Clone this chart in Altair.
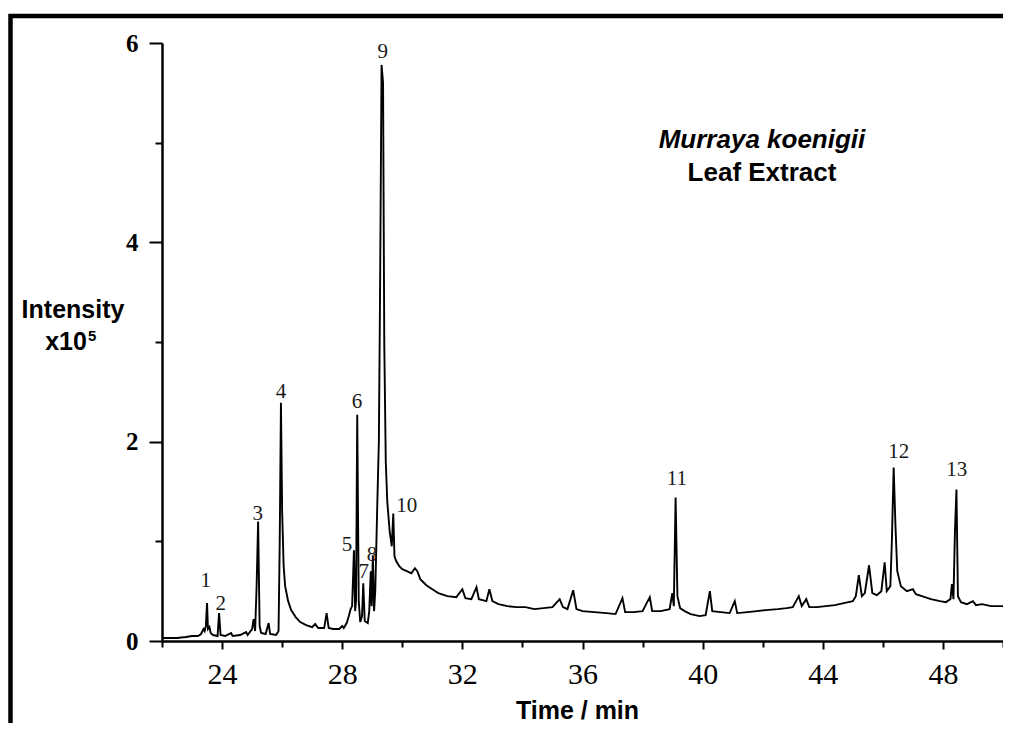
import altair as alt
import pandas as pd

# ---- chromatogram trace (time in min, intensity in 1e5 counts) ----
time_min = [
    22.0, 22.5, 22.8, 23.0, 23.2, 23.3, 23.38, 23.42, 23.46, 23.5, 23.53, 23.58, 23.62, 23.7,
    23.85, 23.9, 23.95, 24.1, 24.3, 24.35, 24.6, 24.8, 24.85, 25.0, 25.05, 25.1, 25.15, 25.2,
    25.25, 25.3, 25.45, 25.55, 25.6, 25.8, 25.88, 25.92, 25.96, 26.0, 26.05, 26.1, 26.2, 26.3,
    26.45, 26.6, 26.8, 27.0, 27.1, 27.2, 27.4, 27.48, 27.55, 27.7, 27.9, 28.0, 28.05, 28.15,
    28.22, 28.28, 28.33, 28.39, 28.43, 28.46, 28.5, 28.55, 28.6, 28.66, 28.7, 28.75, 28.85,
    28.9, 28.95, 28.98, 29.02, 29.06, 29.1, 29.17, 29.22, 29.26, 29.31, 29.36, 29.4, 29.45,
    29.5, 29.58, 29.65, 29.7, 29.74, 29.8, 29.9, 30.0, 30.15, 30.3, 30.42, 30.5, 30.6, 30.8,
    31.0, 31.2, 31.5, 31.8, 32.0, 32.1, 32.3, 32.47, 32.55, 32.8, 32.9, 33.0, 33.2, 33.5,
    33.8, 34.1, 34.4, 34.7, 35.0, 35.24, 35.35, 35.5, 35.69, 35.8, 36.0, 36.4, 36.8, 37.1,
    37.33, 37.42, 37.7, 38.0, 38.24, 38.32, 38.6, 38.9, 38.99, 39.04, 39.1, 39.16, 39.25,
    39.4, 39.6, 39.9, 40.1, 40.24, 40.32, 40.6, 40.9, 41.07, 41.15, 41.5, 41.8, 42.1, 42.5,
    42.8, 43.0, 43.2, 43.3, 43.45, 43.55, 43.8, 44.1, 44.4, 44.7, 45.0, 45.1, 45.2, 45.3,
    45.4, 45.54, 45.65, 45.8, 45.95, 46.06, 46.13, 46.25, 46.3, 46.36, 46.42, 46.48, 46.6,
    46.8, 47.0, 47.1, 47.3, 47.6, 47.9, 48.1, 48.25, 48.3, 48.35, 48.4, 48.45, 48.5, 48.6,
    48.8, 49.0, 49.1, 49.3, 49.6, 50.0,
]
intensity = [
    0.03, 0.03, 0.04, 0.05, 0.05, 0.07, 0.12, 0.10, 0.15, 0.38, 0.12, 0.14, 0.08, 0.06,
    0.05, 0.28, 0.06, 0.05, 0.08, 0.05, 0.06, 0.09, 0.06, 0.12, 0.22, 0.10, 0.55, 1.20,
    0.15, 0.08, 0.07, 0.18, 0.07, 0.06, 0.10, 1.00, 2.39, 1.30, 0.75, 0.55, 0.40, 0.31,
    0.24, 0.19, 0.16, 0.14, 0.17, 0.13, 0.13, 0.28, 0.13, 0.12, 0.12, 0.15, 0.13, 0.18,
    0.25, 0.32, 0.35, 0.91, 0.30, 0.40, 2.27, 0.40, 0.19, 0.25, 0.58, 0.20, 0.18,
    0.30, 0.70, 0.35, 0.86, 0.30, 0.50, 1.40, 2.00, 3.50, 5.78, 5.60, 3.00, 1.80,
    1.40, 1.10, 0.95, 1.28, 0.85, 0.80, 0.75, 0.72, 0.70, 0.68, 0.73, 0.70, 0.62, 0.56,
    0.52, 0.48, 0.45, 0.44, 0.52, 0.43, 0.42, 0.54, 0.42, 0.40, 0.52, 0.40, 0.37, 0.35,
    0.34, 0.34, 0.32, 0.33, 0.34, 0.42, 0.34, 0.32, 0.51, 0.32, 0.30, 0.29, 0.28, 0.27,
    0.43, 0.29, 0.29, 0.30, 0.44, 0.30, 0.30, 0.32, 0.48, 0.35, 1.44, 0.45, 0.33,
    0.30, 0.27, 0.25, 0.26, 0.50, 0.30, 0.29, 0.28, 0.40, 0.28, 0.29, 0.30, 0.31, 0.32,
    0.33, 0.34, 0.45, 0.35, 0.42, 0.34, 0.34, 0.35, 0.36, 0.38, 0.40, 0.45, 0.66, 0.45,
    0.48, 0.76, 0.48, 0.46, 0.50, 0.79, 0.50, 0.55, 1.00, 1.74, 1.15, 0.70, 0.55,
    0.50, 0.52, 0.47, 0.45, 0.42, 0.40, 0.39, 0.42, 0.57, 0.42, 1.10, 1.52, 0.45, 0.39,
    0.37, 0.40, 0.36, 0.37, 0.35, 0.35,
]

# ---- peak labels (data coordinates) ----
peak_ids = ["1", "2", "3", "4", "5", "6", "7", "8", "9", "10", "11", "12", "13"]
label_time = [23.46, 23.96, 25.19, 25.96, 28.16, 28.49, 28.72, 28.99, 29.35, 30.15, 39.14, 46.53, 48.46]
label_int = [0.60, 0.37, 1.27, 2.50, 0.96, 2.40, 0.69, 0.86, 5.91, 1.35, 1.63, 1.90, 1.72]

x_major = [24, 28, 32, 36, 40, 44, 48]
x_minor = [22, 26, 30, 34, 38, 42, 46, 50]
y_major = [0, 2, 4, 6]
y_minor = [1, 3, 5]

species = "Murraya koenigii"
extract = "Leaf Extract"
y_title_1 = "Intensity"
y_title_2 = "x10"
y_title_exp = "5"
x_title = "Time / min"

trace = pd.DataFrame({"t": time_min, "I": intensity})
labels = pd.DataFrame({"id": peak_ids, "t": label_time, "I": label_int})

xscale = alt.Scale(domain=[22, 50], nice=False, zero=False)
yscale = alt.Scale(domain=[0, 6], nice=False, zero=True)

W, H = 841, 598

line = alt.Chart(trace).mark_line(color="black", strokeWidth=1.9, strokeJoin="miter").encode(
    x=alt.X(
        "t:Q", scale=xscale,
        axis=alt.Axis(
            orient="bottom", values=x_major, format="d", tickSize=8, tickWidth=2,
            domainWidth=2.5, domainColor="black", tickColor="black",
            labelFont="Liberation Serif", labelFontSize=30, labelColor="black",
            labelPadding=10, labelFlush=False,
            title=x_title, titleFont="Liberation Sans", titleFontSize=25,
            titleFontWeight="bold", titleColor="black", titleBaseline="alphabetic",
            titleX=415, titleY=77, titleAlign="center",
        ),
    ),
    y=alt.Y(
        "I:Q", scale=yscale,
        axis=alt.Axis(
            orient="left", values=y_major, format="d", tickSize=13, tickWidth=2,
            domainWidth=2.5, domainColor="black", tickColor="black",
            labelFont="Liberation Serif", labelFontSize=25, labelFontWeight="bold",
            labelColor="black", labelPadding=11, labelFlush=False, title=None,
        ),
    ),
)

minor = alt.Chart(trace).mark_line(opacity=0).encode(
    x=alt.X(
        "t:Q", scale=xscale,
        axis=alt.Axis(orient="bottom", values=x_minor, labels=False, domain=False,
                      tickSize=6, tickWidth=2, tickColor="black", title=None),
    ),
    y=alt.Y(
        "I:Q", scale=yscale,
        axis=alt.Axis(orient="left", values=y_minor, labels=False, domain=False,
                      tickSize=7, tickWidth=2, tickColor="black", title=None),
    ),
)

peak_text = alt.Chart(labels).mark_text(
    font="Liberation Serif", fontSize=21, color="#1a1a1a", align="center", baseline="middle"
).encode(
    x=alt.X("t:Q", scale=xscale, axis=None),
    y=alt.Y("I:Q", scale=yscale, axis=None),
    text="id:N",
)


def label_text(txt, x, y, size=26, style="normal", align="center"):
    return alt.Chart(pd.DataFrame({"txt": [txt]})).mark_text(
        font="Liberation Sans", fontSize=size, fontWeight="bold", fontStyle=style,
        color="black", align=align, baseline="alphabetic"
    ).encode(text="txt:N", x=alt.value(x), y=alt.value(y))


ann1 = label_text(species, 600, 105, style="italic")
ann2 = label_text(extract, 600, 138)
yt1 = label_text(y_title_1, -89, 275, size=25)
yt2 = label_text(y_title_2, -96, 307, size=25)
yt3 = label_text(y_title_exp, -74, 298, size=15, align="left")

frame = alt.Chart(pd.DataFrame({"k": [0]})).mark_rect(
    fill=None, stroke="black", strokeWidth=4.5
).encode(
    x=alt.value(-151.5), x2=alt.value(W + 60), y=alt.value(-27), y2=alt.value(H + 140)
)

chart = alt.layer(line, minor, peak_text, ann1, ann2, yt1, yt2, yt3, frame).resolve_axis(
    x="independent", y="independent"
).properties(
    width=W, height=H,
    padding={"left": 154, "top": 35, "right": 0, "bottom": 82},
    autosize=alt.AutoSizeParams(type="none"),
    background="white",
).configure_view(stroke=None).configure_axis(grid=False)

chart.save("out.html", embed_options={"renderer": "svg", "actions": False})
